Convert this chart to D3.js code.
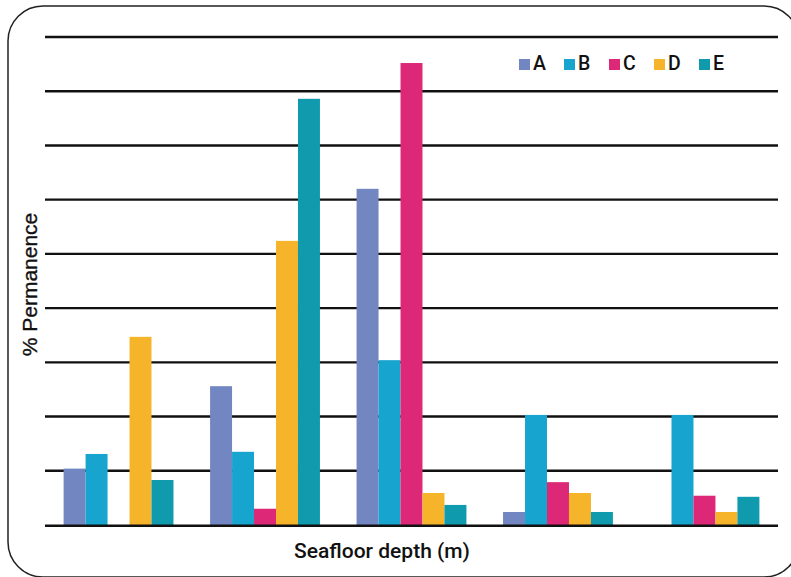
<!DOCTYPE html>
<html>
<head>
<meta charset="utf-8">
<script src="https://cdn.jsdelivr.net/npm/d3@7"></script>
<style>
  html, body { margin: 0; padding: 0; background: #fff; }
  svg { display: block; }
</style>
</head>
<body>
<svg id="chart" width="791" height="577"></svg>
<script>
// ---- data ----
const categories = ["Depth 1", "Depth 2", "Depth 3", "Depth 4", "Depth 5"];
const seriesNames = ["A", "B", "C", "D", "E"];
const seriesA = [10.4, 25.6, 62.0, 2.4, 0];
const seriesB = [13.1, 13.5, 30.4, 20.3, 20.3];
const seriesC = [0, 3.0, 85.2, 7.9, 5.4];
const seriesD = [34.7, 52.4, 5.9, 5.9, 2.4];
const seriesE = [8.3, 78.6, 3.7, 2.4, 5.2];
const yTicks = [0, 10, 20, 30, 40, 50, 60, 70, 80, 90];
const colors = ["#7287c1", "#17a4cf", "#dc2876", "#f5b429", "#0f9aae"];

const seriesValues = [seriesA, seriesB, seriesC, seriesD, seriesE];
const table = categories.map((c, i) => {
  const row = { category: c };
  seriesNames.forEach((s, j) => row[s] = seriesValues[j][i]);
  return row;
});

const svg = d3.select("#chart");

// frame
svg.append("rect")
  .attr("x", 8).attr("y", 6)
  .attr("width", 791).attr("height", 571)
  .attr("rx", 35).attr("ry", 35)
  .attr("fill", "none")
  .attr("stroke", "#222")
  .attr("stroke-width", 1.5);

const mLeft = 45, mRight = 778, mTop = 37, mBottom = 525;

const x0 = d3.scaleBand().domain(categories).range([mLeft, mRight])
  .paddingInner(0.25).paddingOuter(0.127);
const x1 = d3.scaleBand().domain(seriesNames).range([0, x0.bandwidth()]).padding(0);
const y = d3.scaleLinear().domain([0, 90]).range([mBottom, mTop]);
const color = d3.scaleOrdinal().domain(seriesNames).range(colors);

// gridlines
svg.append("g").selectAll("line")
  .data(yTicks.filter(t => t !== 0))
  .join("line")
  .attr("x1", mLeft).attr("x2", mRight)
  .attr("y1", d => y(d)).attr("y2", d => y(d))
  .attr("stroke", "#111").attr("stroke-width", 2.4);

// bars
svg.append("g").selectAll("g")
  .data(table)
  .join("g")
  .attr("transform", d => `translate(${x0(d.category)},0)`)
  .selectAll("rect")
  .data(d => seriesNames.map(s => ({ key: s, value: d[s] })))
  .join("rect")
  .attr("x", d => x1(d.key))
  .attr("width", x1.bandwidth())
  .attr("y", d => y(d.value))
  .attr("height", d => y(0) - y(d.value))
  .attr("fill", d => color(d.key));

// baseline
svg.append("line")
  .attr("x1", mLeft).attr("x2", mRight)
  .attr("y1", y(0) + 0.8).attr("y2", y(0) + 0.8)
  .attr("stroke", "#111").attr("stroke-width", 2.4);

// axis titles
svg.append("text")
  .attr("transform", `translate(36.5, 284.5) rotate(-90)`)
  .attr("text-anchor", "middle")
  .attr("font-family", "'Liberation Sans', Arial, sans-serif")
  .attr("font-size", 21)
  .attr("stroke", "#111").attr("stroke-width", 0.35)
  .attr("fill", "#111")
  .text("% Permanence");

svg.append("text")
  .attr("x", 382).attr("y", 557.5)
  .attr("text-anchor", "middle")
  .attr("font-family", "Roboto, sans-serif")
  .attr("font-weight", 500)
  .attr("font-size", 21)
  .attr("fill", "#111")
  .text("Seafloor depth (m)");

// legend
const legend = svg.append("g").attr("transform", "translate(519,59)");
const items = legend.selectAll("g")
  .data(seriesNames)
  .join("g")
  .attr("transform", (d, i) => `translate(${i * 45},0)`);
items.append("rect")
  .attr("width", 11).attr("height", 11)
  .attr("fill", d => color(d));
items.append("text")
  .attr("x", 14).attr("y", 11)
  .attr("font-family", "Roboto, sans-serif")
  .attr("font-weight", 500)
  .attr("font-size", 19.5)
  .attr("fill", "#111")
  .text(d => d);
</script>
</body>
</html>
